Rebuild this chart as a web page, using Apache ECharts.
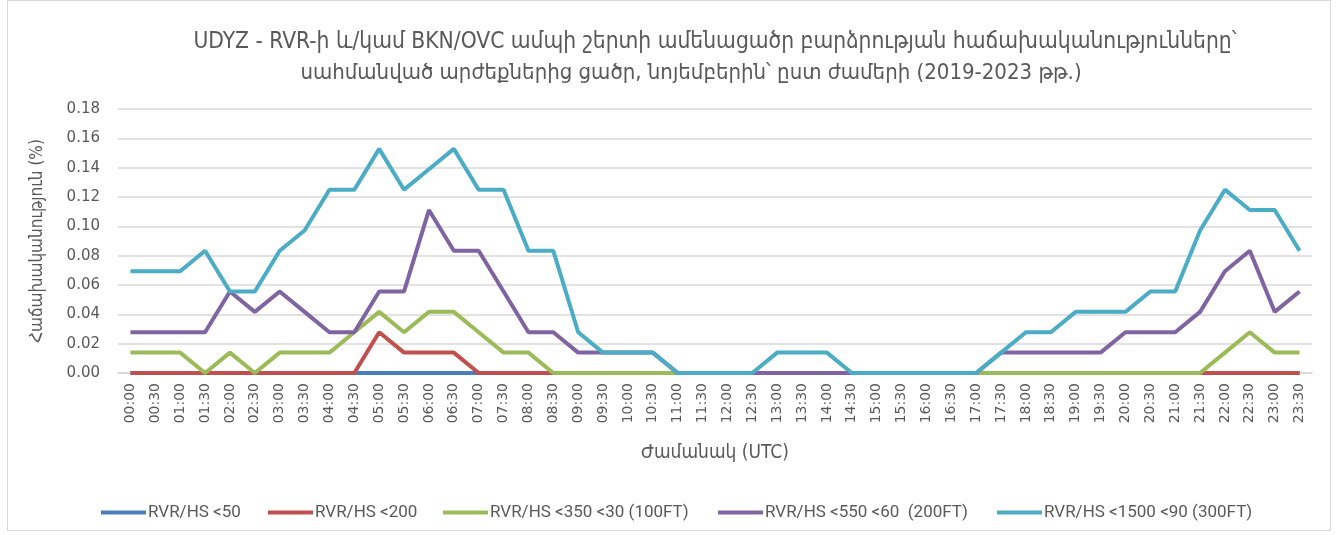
<!DOCTYPE html>
<html><head><meta charset="utf-8">
<script src="https://cdn.jsdelivr.net/npm/echarts@6/dist/echarts.min.js"></script>
<style>
html,body{margin:0;padding:0;background:#fff;}
#frame{position:absolute;left:7px;top:0px;width:1324px;height:531px;border:1px solid #d9d9d9;box-sizing:border-box;}
#c{position:absolute;left:0;top:0;width:1341px;height:535px;}
</style></head>
<body><div id="frame"></div><div id="c"></div>
<script>
const categories = ["00:00","00:30","01:00","01:30","02:00","02:30","03:00","03:30","04:00","04:30","05:00","05:30","06:00","06:30","07:00","07:30","08:00","08:30","09:00","09:30","10:00","10:30","11:00","11:30","12:00","12:30","13:00","13:30","14:00","14:30","15:00","15:30","16:00","16:30","17:00","17:30","18:00","18:30","19:00","19:30","20:00","20:30","21:00","21:30","22:00","22:30","23:00","23:30"];
const yTicks = [0,0.02,0.04,0.06,0.08,0.10,0.12,0.14,0.16,0.18];
const s50 = [0,0,0,0,0,0,0,0,0,0,0,0,0,0,0,0,0,0,0,0,0,0,0,0,0,0,0,0,0,0,0,0,0,0,0,0,0,0,0,0,0,0,0,0,0,0,0,0];
const s200 = [0,0,0,0,0,0,0,0,0,0,0.0278,0.0139,0.0139,0.0139,0,0,0,0,0,0,0,0,0,0,0,0,0,0,0,0,0,0,0,0,0,0,0,0,0,0,0,0,0,0,0,0,0,0];
const s350 = [0.0139,0.0139,0.0139,0,0.0139,0,0.0139,0.0139,0.0139,0.0278,0.0417,0.0278,0.0417,0.0417,0.0278,0.0139,0.0139,0,0,0,0,0,0,0,0,0,0,0,0,0,0,0,0,0,0,0,0,0,0,0,0,0,0,0,0.0139,0.0278,0.0139,0.0139];
const s550 = [0.0278,0.0278,0.0278,0.0278,0.0556,0.0417,0.0556,0.0417,0.0278,0.0278,0.0556,0.0556,0.1111,0.0833,0.0833,0.0556,0.0278,0.0278,0.0139,0.0139,0.0139,0.0139,0,0,0,0,0,0,0,0,0,0,0,0,0,0.0139,0.0139,0.0139,0.0139,0.0139,0.0278,0.0278,0.0278,0.0417,0.0694,0.0833,0.0417,0.0556];
const s1500 = [0.0694,0.0694,0.0694,0.0833,0.0556,0.0556,0.0833,0.0972,0.125,0.125,0.1528,0.125,0.1389,0.1528,0.125,0.125,0.0833,0.0833,0.0278,0.0139,0.0139,0.0139,0,0,0,0,0.0139,0.0139,0.0139,0,0,0,0,0,0,0.0139,0.0278,0.0278,0.0417,0.0417,0.0417,0.0556,0.0556,0.0972,0.125,0.1111,0.1111,0.0833];
const names = ["RVR/HS <50","RVR/HS <200","RVR/HS <350 <30 (100FT)","RVR/HS <550 <60  (200FT)","RVR/HS <1500 <90 (300FT)"];
const colors = ["#4a7ebb","#c0504d","#9bbb59","#8064a2","#4bacc6"];
const dataSets = [s50,s200,s350,s550,s1500];
const legendLefts = [96,263,438,713,992];
const titleLines = ["UDYZ - RVR-ի և/կամ BKN/OVC ամպի շերտի ամենացածր բարձրության հաճախականությունները՝","սահմանված արժեքներից ցածր, նոյեմբերին՝ ըստ ժամերի (2019-2023 թթ.)"];

const txt = '#595959';
const titleStyle = {color:txt,fontWeight:'normal',fontFamily:'DejaVu Sans Condensed, DejaVu Sans'};
const chart = echarts.init(document.getElementById('c'));
chart.setOption({
  animation:false,
  color: colors,
  title:[
    {text:titleLines[0], left:710, top:26, textAlign:'center', textStyle:Object.assign({fontSize:22.6},titleStyle)},
    {text:titleLines[1], left:686, top:57, textAlign:'center', textStyle:Object.assign({fontSize:22},titleStyle)}
  ],
  legend: names.map((n,i)=>({
    data:[n], left:legendLefts[i], top:499, itemWidth:45, itemHeight:4, icon:'rect',
    textStyle:{color:txt,fontSize:17,fontFamily:'Roboto, sans-serif',padding:[0,0,0,-3]}
  })),
  grid:{left:118, right:29, top:109, bottom:162, containLabel:false},
  xAxis:{
    type:'category', data:categories, boundaryGap:true,
    name:'Ժամանակ (UTC)', nameLocation:'middle', nameGap:71,
    nameTextStyle:{color:txt,fontSize:19,fontFamily:'DejaVu Sans Condensed, DejaVu Sans'},
    axisLine:{lineStyle:{color:'#d9d9d9',width:1.5}},
    axisTick:{show:false},
    axisLabel:{interval:0, rotate:90, color:txt, fontSize:14, fontFamily:'DejaVu Sans', margin:10}
  },
  yAxis:{
    type:'value', min:yTicks[0], max:yTicks[yTicks.length-1], interval:0.02,
    name:'Հաճախականություն (%)', nameLocation:'middle', nameGap:72, nameRotate:90,
    nameTextStyle:{color:txt,fontSize:17,fontFamily:'DejaVu Sans Condensed, DejaVu Sans'},
    axisLine:{show:false}, axisTick:{show:false},
    splitLine:{lineStyle:{color:'#d9d9d9',width:1.5}},
    axisLabel:{color:txt, fontSize:15, fontFamily:'DejaVu Sans', margin:18, formatter:v=>v.toFixed(2)}
  },
  series: dataSets.map((d,i)=>({
    name:names[i], type:'line', data:d, showSymbol:false, symbol:'none',
    lineStyle:{width:4,color:colors[i]}, itemStyle:{color:colors[i]}, z:2+i
  }))
});
</script></body></html>
